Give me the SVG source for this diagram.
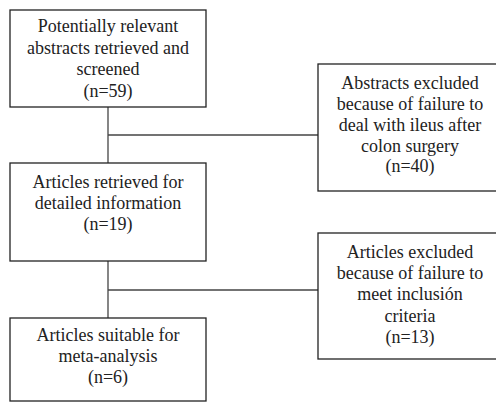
<svg xmlns="http://www.w3.org/2000/svg" width="496" height="404" viewBox="0 0 496 404">
<style>
.box{fill:#fff;stroke:#222;stroke-width:1.3}
.c{stroke:#444;stroke-width:1.3;fill:none}
.t{font-family:'Liberation Serif','DejaVu Serif',serif;font-size:18px;fill:#222;text-anchor:middle}
</style>
<rect width="496" height="404" fill="#fff"/>
<g id="connectors">
<line class="c" x1="108" y1="107" x2="108" y2="163"/>
<line class="c" x1="108" y1="135" x2="318" y2="135"/>
<line class="c" x1="108" y1="261" x2="108" y2="318"/>
<line class="c" x1="108" y1="290" x2="318" y2="290"/>
</g>
<g id="n1">
<rect class="box" x="10" y="10" width="196" height="97"/>
<text class="t" x="108" y="32">Potentially relevant</text>
<text class="t" x="108" y="53.5">abstracts retrieved and</text>
<text class="t" x="108" y="75">screened</text>
<text class="t" x="108" y="96.5">(n=59)</text>
</g>
<g id="n2">
<rect class="box" x="318" y="64" width="190" height="127"/>
<text class="t" x="410" y="89">Abstracts excluded</text>
<text class="t" x="410" y="110">because of failure to</text>
<text class="t" x="410" y="131">deal with ileus after</text>
<text class="t" x="410" y="151.5">colon surgery</text>
<text class="t" x="410" y="172">(n=40)</text>
</g>
<g id="n3">
<rect class="box" x="10" y="163" width="196" height="98"/>
<text class="t" x="108" y="188">Articles retrieved for</text>
<text class="t" x="108" y="209">detailed information</text>
<text class="t" x="108" y="230">(n=19)</text>
</g>
<g id="n4">
<rect class="box" x="318" y="233" width="190" height="126"/>
<text class="t" x="410" y="258">Articles excluded</text>
<text class="t" x="410" y="279">because of failure to</text>
<text class="t" x="410" y="300">meet inclusión</text>
<text class="t" x="410" y="322">criteria</text>
<text class="t" x="410" y="343">(n=13)</text>
</g>
<g id="n5">
<rect class="box" x="10" y="318" width="196" height="83"/>
<text class="t" x="108" y="341">Articles suitable for</text>
<text class="t" x="108" y="362">meta-analysis</text>
<text class="t" x="108" y="383">(n=6)</text>
</g>
</svg>
